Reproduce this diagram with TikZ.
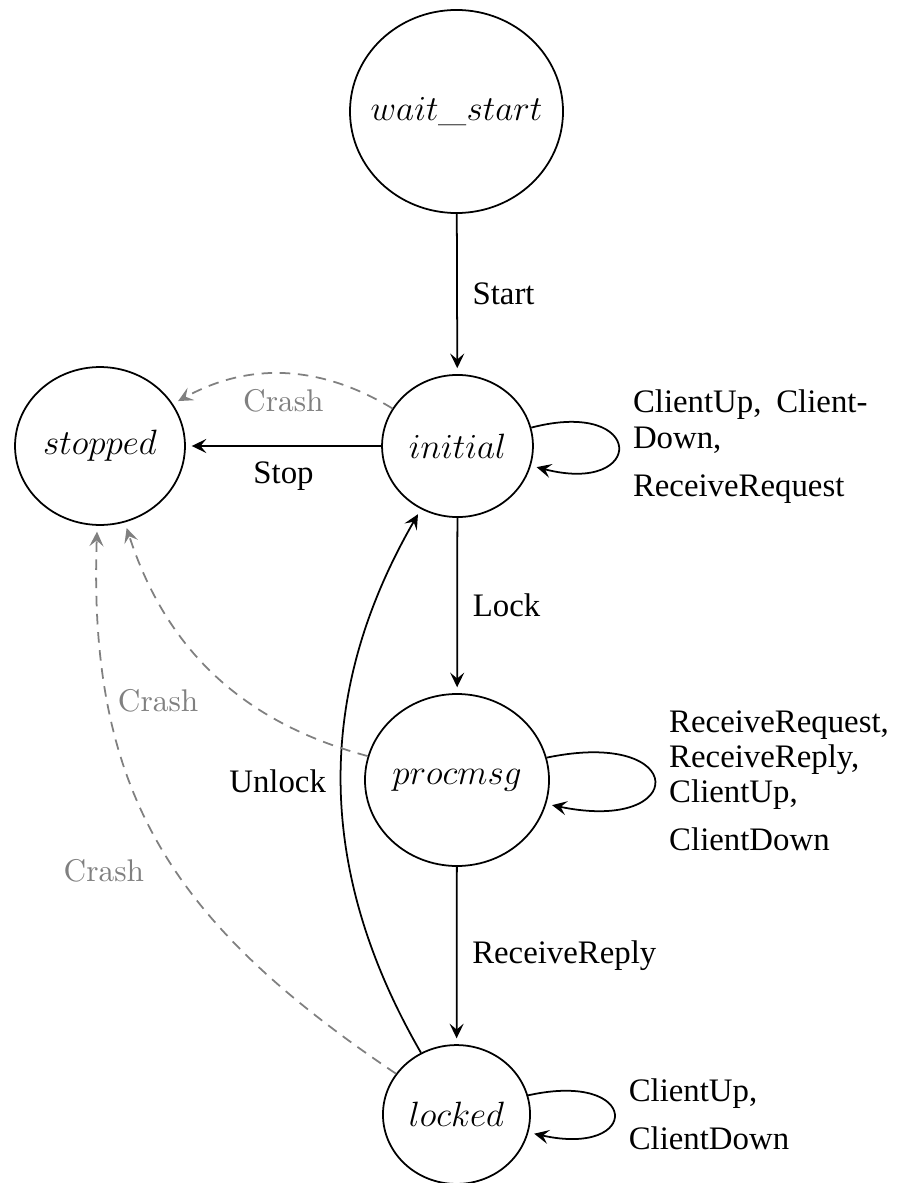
\documentclass[tikz,border=0pt]{standalone}
\usepackage[no-math]{fontspec}
\newfontfamily\lblfont{Liberation Serif}
\usetikzlibrary{shapes.geometric,arrows.meta}
\begin{document}
\begin{tikzpicture}[x=0.3413pt,y=0.3413pt,
  >={Stealth[length=5pt,width=4.8pt,inset=2pt]},
  state/.style={ellipse, draw, semithick, inner sep=-10pt,
    font=\fontsize{13.1}{15}\selectfont},
  trans/.style={->, semithick, shorten >=2pt},
  crash/.style={->, semithick, dash pattern=on 3.6pt off 2.6pt, black!50, shorten >=2pt},
  lbl/.style={font=\lblfont\fontsize{11.2}{12}\selectfont, inner sep=5pt},
  looplbl/.style={lbl, auto=false, right, align=left},
  crashlbl/.style={font=\fontsize{10.7}{13}\selectfont, text=black!50, inner sep=5pt},
  auto]

\useasboundingbox (0,0) rectangle (896,-1183);

% states
\node[state, minimum width=72.7pt, minimum height=69.3pt] (wait)     at (456.5,-111.5) {$wait\_start$};
\node[state, minimum width=51.5pt, minimum height=48.5pt] (initial)  at (457.5,-446)   {$initial$};
\node[state, minimum width=58.0pt, minimum height=53.9pt] (stopped)  at (100,-446)     {$stopped$};
\node[state, minimum width=62.8pt, minimum height=58.7pt] (procmsg)  at (457,-780)     {$procmsg$};
\node[state, minimum width=50.2pt, minimum height=47.4pt] (locked)   at (456.5,-1114.5){$locked$};

% main transitions
\draw[trans] (wait) -- node[lbl] {Start} (initial);
\draw[trans] (initial) -- node[lbl] {Stop} (stopped);
\draw[trans] (initial) -- node[lbl] {Lock} (procmsg);
\draw[trans] (procmsg) -- node[lbl] {ReceiveReply} (locked);
\draw[trans] (locked) to[bend left=30] node[lbl] {Unlock} (initial);

% self loops
\draw[trans] (initial.14) .. controls +(14.6:119) and +(-14.6:119) ..
  node[looplbl] {ClientUp,\hspace{0.45em}Client-\\Down,\\[4.4pt]ReceiveRequest} (initial.-15);
\draw[trans] (procmsg.14) .. controls +(11.8:146) and +(-11.8:146) ..
  node[looplbl] {ReceiveRequest,\\ReceiveReply,\\ClientUp,\\[4.4pt]ClientDown} (procmsg.-15);
\draw[trans] (locked.15) .. controls +(12.5:116) and +(-12.5:116) ..
  node[looplbl] {ClientUp,\\[4.4pt]ClientDown} (locked.-14);

% crash transitions
\draw[crash] (initial) to[bend right=30] node[crashlbl] {Crash} (stopped);
\draw[crash] (procmsg) to[out=165,in=-72] node[crashlbl] {Crash} (stopped);
\draw[crash] (locked) to[out=146,in=-92,looseness=1.1] node[crashlbl] {Crash} (stopped);
\end{tikzpicture}
\end{document}
